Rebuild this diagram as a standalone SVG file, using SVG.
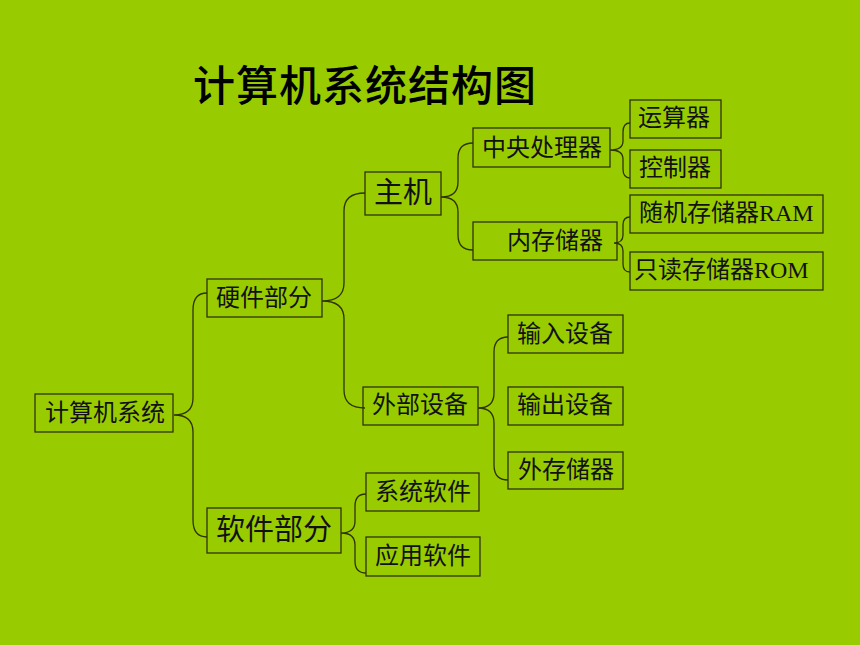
<svg xmlns="http://www.w3.org/2000/svg" width="860" height="645" viewBox="0 0 860 645">
<style>
.box{fill:none;stroke:#2e3300;stroke-width:1.3}
.t{font-family:"Liberation Serif","Noto Sans CJK SC",serif;font-size:24px;fill:#111;dominant-baseline:central}
.big{font-size:29px}
.brace{fill:none;stroke:#2e3300;stroke-width:1.3}
.title{font-family:"Noto Sans CJK SC",sans-serif;font-size:42px;font-weight:500;fill:#000;letter-spacing:1px}
</style>
<rect width="860" height="645" fill="#99CC00"/>
<text class="title" x="193" y="101">计算机系统结构图</text>
<g id="connectors">
<path class="brace" d="M207,293 Q193,293 193,310 L193,398 Q193,415 174,415 Q193,415 193,432 L193,520 Q193,537 207,537"/>
<path class="brace" d="M365,193 Q344,193 344,211 L344,283 Q344,301 322,301 Q344,301 344,319 L344,390 Q344,408 365,408"/>
<path class="brace" d="M473,143 Q458,143 458,158 L458,182 Q458,197 441,197 Q458,197 458,212 L458,235 Q458,250 473,250"/>
<path class="brace" d="M630,123 Q623,123 623,132 L623,141 Q623,150 610,150 Q623,150 623,159 L623,169 Q623,178 630,178"/>
<path class="brace" d="M630,217 Q623,217 623,225 L623,235 Q623,243 614,243 Q623,243 623,251 L623,264 Q623,272 630,272"/>
<path class="brace" d="M508,337 Q494,337 494,352 L494,393 Q494,408 478,408 Q494,408 494,423 L494,465 Q494,480 508,480"/>
<path class="brace" d="M366,494 Q355,494 355,506 L355,521 Q355,533 341,533 Q355,533 355,545 L355,561 Q355,573 366,573"/>
</g>
<g id="n-root"><rect class="box" x="35" y="394" width="138" height="38"/><text class="t" x="45" y="413">计算机系统</text></g>
<g id="n-hw"><rect class="box" x="207" y="279" width="115" height="38"/><text class="t" x="216" y="298">硬件部分</text></g>
<g id="n-sw"><rect class="box" x="207" y="508" width="134" height="45"/><text class="t big" x="216" y="530">软件部分</text></g>
<g id="n-host"><rect class="box" x="365" y="172" width="76" height="43"/><text class="t big" x="374" y="193">主机</text></g>
<g id="n-cpu"><rect class="box" x="473" y="128" width="137" height="39"/><text class="t" x="482" y="148">中央处理器</text></g>
<g id="n-mem"><rect class="box" x="473" y="222" width="144" height="38"/><text class="t" x="507" y="241">内存储器</text></g>
<g id="n-alu"><rect class="box" x="630" y="100" width="91" height="38"/><text class="t" x="638" y="118">运算器</text></g>
<g id="n-ctl"><rect class="box" x="630" y="150" width="91" height="38"/><text class="t" x="639" y="168">控制器</text></g>
<g id="n-ram"><rect class="box" x="630" y="195" width="193" height="38"/><text class="t" x="639" y="213">随机存储器RAM</text></g>
<g id="n-rom"><rect class="box" x="630" y="252" width="193" height="38"/><text class="t" x="634" y="270">只读存储器ROM</text></g>
<g id="n-ext"><rect class="box" x="363" y="387" width="115" height="38"/><text class="t" x="372" y="405">外部设备</text></g>
<g id="n-in"><rect class="box" x="508" y="315" width="115" height="38"/><text class="t" x="517" y="334">输入设备</text></g>
<g id="n-out"><rect class="box" x="508" y="387" width="115" height="38"/><text class="t" x="517" y="405">输出设备</text></g>
<g id="n-disk"><rect class="box" x="508" y="452" width="115" height="37"/><text class="t" x="518" y="470">外存储器</text></g>
<g id="n-sys"><rect class="box" x="366" y="473" width="113" height="38"/><text class="t" x="375" y="492">系统软件</text></g>
<g id="n-app"><rect class="box" x="366" y="537" width="114" height="39"/><text class="t" x="375" y="556">应用软件</text></g>
</svg>
